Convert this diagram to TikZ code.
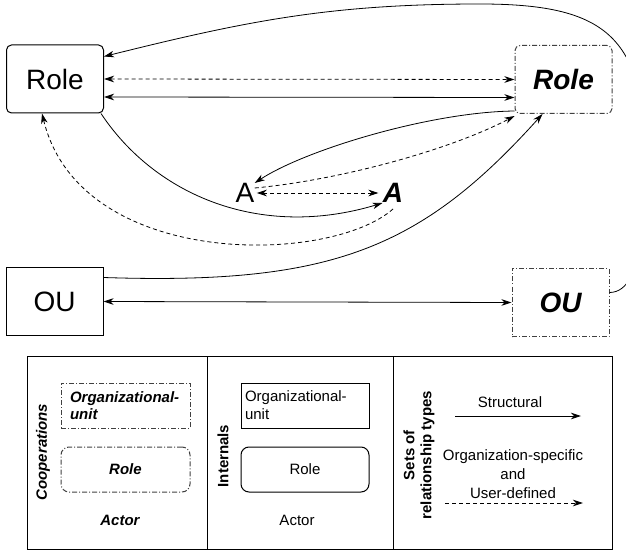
\documentclass[tikz,border=0pt]{standalone}
\usepackage{fontspec}
\setmainfont{Liberation Sans}
\usetikzlibrary{positioning, arrows.meta}

\begin{document}
\begin{tikzpicture}[x=1pt, y=1pt, line width=0.8pt,
  >={Stealth[length=10pt, width=6.5pt, inset=3pt]},
  every node/.style={font=\fontsize{28}{32}\selectfont, inner sep=0pt},
  intbox/.style={draw, line width=1pt, minimum width=97pt, minimum height=68pt},
  coopbox/.style={draw=black!75, line width=1pt, dash pattern=on 5pt off 2pt on 1pt off 2pt,
    minimum width=97pt, minimum height=68pt},
  bi/.style={font=\fontsize{28}{32}\selectfont\bfseries\itshape},
  dsh/.style={dash pattern=on 4pt off 3pt},
  lbl/.style={font=\fontsize{15}{18}\selectfont},
  lblbi/.style={font=\fontsize{15}{17}\selectfont\bfseries\itshape},
  lblb/.style={font=\fontsize{15}{17}\selectfont\bfseries}]
\useasboundingbox (0,0) rectangle (626,-553);

\node[intbox, rounded corners=5pt] (roleI) at (55,-79) {Role};
\node[coopbox, rounded corners=5pt, bi] (roleC) at (563.5,-79.5) {Role};
\node (actI) at (245,-193) {A};
\node[bi] (actC) at (393,-193) {A};
\node[intbox] (ouI) at (54.5,-301.5) {OU};
\node[coopbox, bi] (ouC) at (560.5,-302.5) {OU};

\coordinate (loopR) at (645,-160);
\coordinate (loopT) at (480,-4);

\draw[->] ([yshift=10pt]ouC.east) to[out=0, in=-90, looseness=0.7] (loopR)
  to[out=90, in=0, looseness=1.4] (loopT)
  to[out=180, in=14] ([yshift=-12pt]roleI.north east);
\draw[<->, dsh] (roleI.east) -- (roleC.west);
\draw[<->] ([yshift=-18pt]roleI.east) -- ([yshift=-18pt]roleC.west);
\draw[<->, dsh] ([xshift=2pt]actI.east) -- ([xshift=-4pt]actC.west);
\draw[->] ([xshift=-3pt]roleI.south east) .. controls (155,-195) and (260,-240) .. ([yshift=-10pt]actC.west);
\draw[->, dsh] ([yshift=-16pt]actC.center) .. controls (330,-265) and (80,-270) .. ([xshift=-13pt]roleI.south);
\draw[->] ([yshift=3pt]roleC.south west) .. controls (430,-112) and (305,-150) .. ([yshift=10pt]actI.east);
\draw[->, dsh] ([yshift=5pt]actI.east) .. controls (340,-180) and (450,-150) .. ([yshift=-2pt]roleC.south west);
\draw[->] ([yshift=24pt]ouI.east) .. controls (330,-285) and (420,-250) .. ([xshift=-21pt]roleC.south);
\draw[<->] (ouI.east) -- (ouC.west);

\draw[line width=1pt] (27,-356) rectangle (612,-549);
\draw[line width=1pt] (207,-356) -- (207,-549);
\draw[line width=1pt] (393,-356) -- (393,-549);

\node[lblbi, rotate=90] (coop) at (43,-452) {Cooperations};
\node[coopbox, lblbi, minimum width=129pt, minimum height=45pt, inner xsep=9pt,
  text width=111pt, align=left] (legOUc) at (125.5,-405.5) {Organizational-\\unit};
\node[coopbox, lblbi, rounded corners=8pt, minimum width=129pt, minimum height=45pt]
  (legRoleC) at (125.5,-469.5) {Role};
\node[lblbi] (legActC) at (120,-520) {Actor};

\node[lblb, rotate=90] (intl) at (223,-456) {Internals};
\node[intbox, lbl, minimum width=128pt, minimum height=45pt, inner xsep=4pt,
  text width=120pt, align=left] (legOUi) at (305,-405.5) {Organizational-\\unit};
\node[intbox, lbl, rounded corners=8pt, minimum width=128pt, minimum height=45pt]
  (legRoleI) at (305,-469.5) {Role};
\node[lbl] (legActI) at (297,-520) {Actor};

\node[lblb, rotate=90, align=center] (sets) at (419,-455) {Sets of\\relationship types};
\node[lbl] (strc) at (510,-402) {Structural};
\coordinate (s1) at (455,-416);
\coordinate (s2) at (581,-416);
\draw[->] (s1) -- (s2);
\node[lbl, align=center, font=\fontsize{15}{19}\selectfont] (spec) at (513,-474) {Organization-specific\\and\\User-defined};
\coordinate (u1) at (445,-503);
\coordinate (u2) at (583,-503);
\draw[->, dsh] (u1) -- (u2);
\end{tikzpicture}
\end{document}
